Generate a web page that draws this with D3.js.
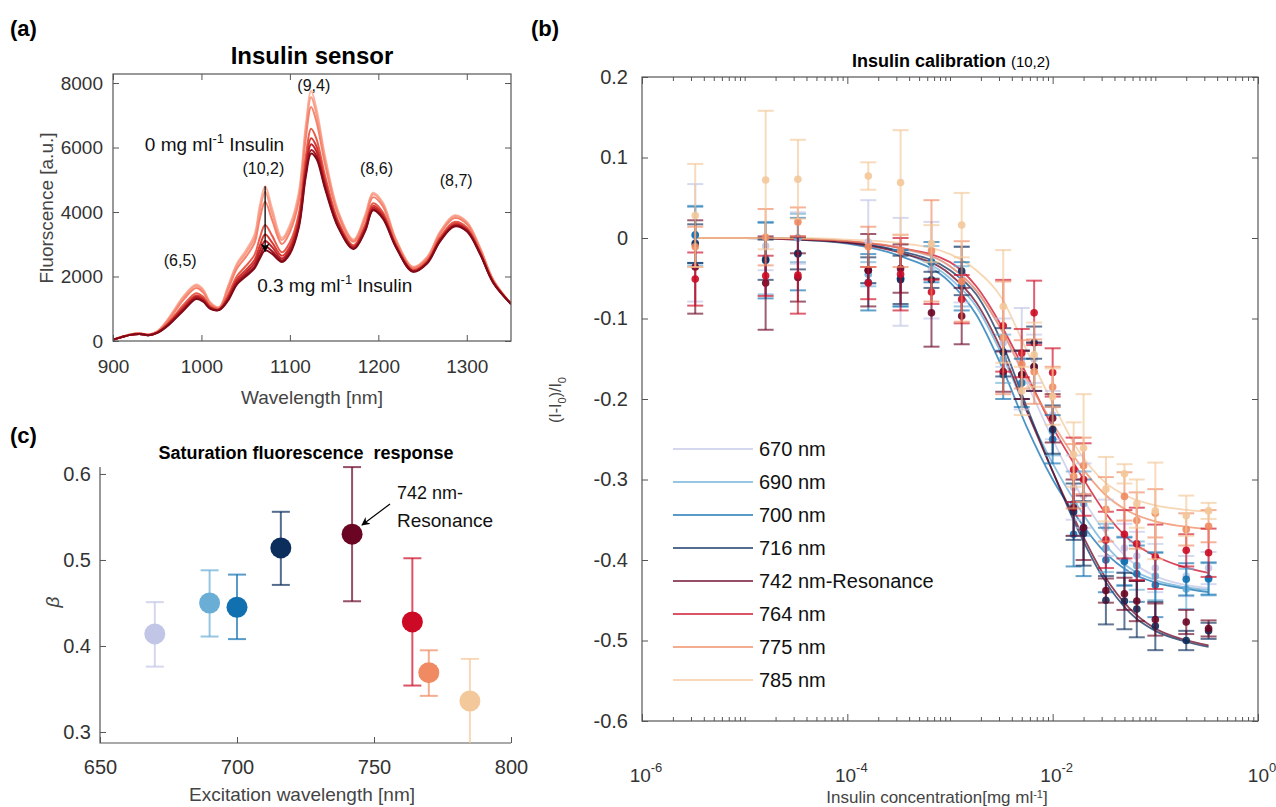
<!DOCTYPE html>
<html>
<head>
<meta charset="utf-8">
<style>
  body { margin: 0; background: #fff; }
  svg text { font-family: "Liberation Sans", Arial, sans-serif; white-space: pre; }
</style>
</head>
<body>
<div id="chart"></div>
<script src="https://d3js.org/d3.v7.min.js"></script>
<script>
// ---------- (a) emission spectra, 0 -> 0.3 mg/ml insulin ----------
var wavelengths = [900,910,920,930,940,950,960,970,980,994,1002,1010,1020,1030,1040,1050,1060,1066,1072,1080,1091,1100,1110,1118,1124,1130,1140,1155,1172,1185,1194,1205,1220,1239,1255,1270,1286,1300,1315,1330,1350];
var spec0 = [40,130,210,240,200,300,600,1000,1400,1750,1600,1200,1050,1700,2400,2800,3300,4200,4800,4100,3200,3600,4600,6700,7750,7200,5700,4000,3150,3900,4600,4300,3150,2300,2600,3400,3900,3700,2900,1900,1150];
var spec1 = [40,130,210,240,200,295,580,970,1360,1710,1560,1180,1040,1660,2340,2720,3200,4050,4620,3960,3130,3510,4490,6540,7560,7050,5600,3950,3120,3850,4550,4250,3130,2290,2580,3370,3870,3670,2880,1890,1150];
var spec2 = [40,130,200,230,200,290,560,920,1290,1640,1500,1150,1030,1590,2240,2600,3040,3800,4320,3750,3010,3380,4330,6300,7260,6810,5450,3880,3080,3780,4460,4180,3090,2260,2550,3330,3810,3630,2850,1880,1150];
var spec3 = [40,120,200,230,190,270,500,810,1130,1480,1370,1080,1000,1430,2010,2320,2670,3200,3600,3260,2750,3060,3940,5740,6580,6270,5100,3700,2970,3600,4270,4000,3000,2210,2480,3220,3690,3520,2780,1840,1150];
var spec4 = [40,120,190,220,180,260,470,760,1060,1410,1320,1050,980,1360,1910,2200,2510,2960,3300,3050,2640,2930,3780,5500,6290,6040,4950,3630,2930,3530,4190,3930,2960,2190,2450,3180,3640,3480,2750,1830,1150];
var spec5 = [40,120,190,220,180,260,460,730,1020,1370,1280,1030,970,1320,1850,2120,2410,2790,3100,2910,2560,2840,3670,5340,6100,5880,4850,3580,2900,3480,4130,3880,2940,2170,2430,3150,3600,3450,2730,1820,1150];
var spec6 = [40,120,190,220,180,250,440,700,980,1330,1240,1010,970,1280,1790,2050,2310,2650,2930,2780,2500,2750,3570,5200,5920,5740,4760,3530,2870,3430,4080,3830,2920,2160,2410,3120,3570,3420,2710,1810,1150];
var spec7 = [40,120,190,220,180,250,430,680,950,1300,1220,1000,960,1250,1750,2000,2250,2560,2810,2700,2450,2700,3500,5100,5810,5650,4700,3500,2850,3400,4050,3800,2900,2150,2400,3100,3550,3400,2700,1800,1150];
var specColors = ["#fbb3a0","#f89c86","#f4826c","#e75b4a","#d63a32","#bf2329","#a2131f","#800a18"];
var aXTicks = [900,1000,1100,1200,1300];
var aYTicks = [0,2000,4000,6000,8000];
var peakLabels = ["(6,5)","(10,2)","(9,4)","(8,6)","(8,7)"];
var peakWl = [976,1070,1127,1198,1288];
var peakVal = [2510,5360,7940,5360,4990];

// ---------- (b) calibration, (I-I0)/I0 vs concentration ----------
var conc = [3.3e-6,1.6e-5,3.3e-5,1.6e-4,3.3e-4,6.6e-4,1.3e-3,3.3e-3,5e-3,6.6e-3,1e-2,1.6e-2,2e-2,3.3e-2,5e-2,6.6e-2,0.1,0.2,0.33];
var mean670 = [-0.006,-0.010,0.000,-0.005,-0.042,-0.040,-0.045,-0.130,-0.150,-0.150,-0.220,-0.310,-0.320,-0.360,-0.385,-0.395,-0.410,-0.420,-0.410];
var err670  = [0.073,0.030,0.032,0.052,0.067,0.060,0.035,0.030,0.063,0.030,0.030,0.040,0.040,0.035,0.030,0.030,0.030,0.025,0.020];
var mean690 = [0.003,-0.025,0.000,-0.045,-0.050,-0.030,-0.060,-0.150,-0.170,-0.160,-0.240,-0.330,-0.330,-0.385,-0.401,-0.407,-0.420,-0.436,-0.424];
var err690  = [0.037,0.045,0.030,0.015,0.035,0.020,0.025,0.030,0.030,0.030,0.030,0.040,0.040,0.030,0.030,0.030,0.030,0.025,0.020];
var mean700 = [0.004,-0.028,-0.020,-0.055,-0.050,-0.030,-0.060,-0.170,-0.180,-0.160,-0.250,-0.368,-0.360,-0.400,-0.402,-0.417,-0.431,-0.424,-0.423];
var err700  = [0.035,0.047,0.045,0.035,0.035,0.025,0.030,0.030,0.030,0.030,0.030,0.040,0.060,0.040,0.030,0.035,0.040,0.020,0.020];
var mean716 = [-0.007,-0.027,-0.019,-0.040,-0.052,-0.052,-0.041,-0.142,-0.170,-0.130,-0.238,-0.340,-0.367,-0.450,-0.451,-0.461,-0.482,-0.500,-0.488];
var err716  = [0.024,0.025,0.020,0.016,0.030,0.010,0.030,0.030,0.030,0.020,0.030,0.035,0.040,0.030,0.035,0.035,0.030,0.012,0.010];
var mean742 = [-0.036,-0.056,-0.049,-0.040,-0.038,-0.093,-0.097,-0.166,-0.170,-0.160,-0.224,-0.335,-0.360,-0.438,-0.442,-0.451,-0.474,-0.477,-0.485];
var err742  = [0.058,0.058,0.030,0.045,0.030,0.042,0.035,0.025,0.030,0.030,0.030,0.035,0.040,0.015,0.020,0.025,0.020,0.015,0.010];
var mean764 = [-0.051,-0.047,-0.046,-0.056,-0.045,-0.067,-0.076,-0.109,-0.143,-0.093,-0.167,-0.288,-0.300,-0.375,-0.368,-0.380,-0.396,-0.388,-0.391];
var err764  = [0.033,0.025,0.048,0.020,0.045,0.015,0.030,0.057,0.030,0.040,0.030,0.040,0.045,0.035,0.030,0.045,0.040,0.020,0.030];
var mean775 = [-0.011,0.001,0.020,-0.011,-0.016,-0.016,-0.054,-0.124,-0.157,-0.166,-0.185,-0.296,-0.283,-0.337,-0.321,-0.351,-0.342,-0.362,-0.358];
var err775  = [0.025,0.035,0.018,0.025,0.020,0.063,0.050,0.070,0.030,0.040,0.025,0.040,0.035,0.040,0.030,0.035,0.030,0.020,0.020];
var mean785 = [0.028,0.072,0.073,0.077,0.069,-0.007,0.016,-0.085,-0.190,-0.145,-0.197,-0.269,-0.261,-0.312,-0.293,-0.330,-0.339,-0.345,-0.339];
var err785  = [0.064,0.086,0.049,0.017,0.065,0.023,0.040,0.070,0.030,0.040,0.035,0.040,0.067,0.040,0.012,0.030,0.060,0.025,0.010];
// fitted curves
var fitConc = [3.3e-6,1e-5,3.2e-5,1e-4,3.2e-4,1e-3,1.8e-3,3.2e-3,5.6e-3,1e-2,1.8e-2,3.2e-2,5.6e-2,0.1,0.18,0.33];
var fit670 = [0,0,-0.001,-0.004,-0.013,-0.035,-0.065,-0.115,-0.180,-0.250,-0.315,-0.365,-0.400,-0.420,-0.430,-0.435];
var fit690 = [0,0,-0.001,-0.005,-0.017,-0.050,-0.085,-0.145,-0.215,-0.280,-0.335,-0.380,-0.410,-0.425,-0.433,-0.437];
var fit700 = [0,0,-0.002,-0.007,-0.022,-0.055,-0.095,-0.160,-0.235,-0.300,-0.350,-0.390,-0.415,-0.428,-0.435,-0.440];
var fit716 = [0,0,-0.001,-0.005,-0.016,-0.040,-0.070,-0.130,-0.210,-0.290,-0.365,-0.425,-0.465,-0.488,-0.500,-0.508];
var fit742 = [0,0,-0.002,-0.006,-0.018,-0.045,-0.080,-0.140,-0.215,-0.290,-0.360,-0.420,-0.460,-0.485,-0.498,-0.506];
var fit764 = [0,0,-0.001,-0.004,-0.012,-0.030,-0.060,-0.110,-0.170,-0.235,-0.290,-0.340,-0.375,-0.395,-0.408,-0.416];
var fit775 = [0,0,-0.001,-0.004,-0.012,-0.035,-0.065,-0.115,-0.175,-0.230,-0.280,-0.318,-0.340,-0.352,-0.358,-0.362];
var fit785 = [0,0,0,-0.002,-0.006,-0.020,-0.040,-0.075,-0.140,-0.205,-0.265,-0.303,-0.322,-0.332,-0.337,-0.340];
var seriesNames = ["670 nm","690 nm","700 nm","716 nm","742 nm-Resonance","764 nm","775 nm","785 nm"];
var seriesColors = ["#c2c6e6","#6aaed6","#1170b0","#0c2e5c","#6a0623","#cc0a25","#ef8a62","#f3c89a"];
var bYTicks = [-0.6,-0.5,-0.4,-0.3,-0.2,-0.1,0,0.1,0.2];
var bXMajor = [1e-6,1e-4,1e-2,1];
var bXExp = ["-6","-4","-2","0"];

// ---------- (c) saturation response beta ----------
var betaWl   = [670,690,700,716,742,764,770,785];
var betaVal  = [0.414,0.450,0.445,0.514,0.530,0.428,0.369,0.336];
var betaLow  = [0.376,0.411,0.408,0.471,0.452,0.354,0.342,0.280];
var betaHigh = [0.451,0.488,0.483,0.556,0.608,0.502,0.395,0.385];
var cXTicks = [650,700,750,800];
var cYTicks = [0.3,0.4,0.5,0.6];

var svg = d3.select("#chart").append("svg")
    .attr("width", 1276)
    .attr("height", 807);

function styleAxis(g, size) {
  g.attr("font-size", size).attr("font-family", "Liberation Sans, Arial, sans-serif");
  g.select(".domain").remove();
  g.selectAll("line").attr("stroke", "#555");
  g.selectAll("text").attr("fill", "#333");
}

function panelLabel(txt, x, y) {
  svg.append("text").attr("x", x).attr("y", y)
      .attr("font-size", 22).attr("font-weight", "bold").text(txt);
}

// ================= panel (a) =================
var xa = d3.scaleLinear().domain([900, 1350]).range([113, 511]);
var ya = d3.scaleLinear().domain([0, 8280]).range([341, 74]);

panelLabel("(a)", 10, 36);
svg.append("text").attr("x", 312).attr("y", 64).attr("text-anchor", "middle")
    .attr("font-size", 24).attr("font-weight", "bold").text("Insulin sensor");

svg.append("clipPath").attr("id", "clipA").append("rect")
    .attr("x", 113).attr("y", 74).attr("width", 398).attr("height", 267);

var specLine = d3.line()
    .x(function(d) { return xa(d[0]); })
    .y(function(d) { return ya(d[1]); })
    .curve(d3.curveCatmullRom.alpha(0.5));

var spectra = [spec0, spec1, spec2, spec3, spec4, spec5, spec6, spec7];
svg.append("g").attr("clip-path", "url(#clipA)")
  .selectAll("path").data(spectra).enter().append("path")
    .attr("d", function(s) { return specLine(d3.zip(wavelengths, s)); })
    .attr("fill", "none")
    .attr("stroke", function(s, i) { return specColors[i]; })
    .attr("stroke-width", 2);

svg.append("rect").attr("x", 113).attr("y", 74).attr("width", 398).attr("height", 267)
    .attr("fill", "none").attr("stroke", "#555").attr("stroke-width", 1.2);

styleAxis(svg.append("g").attr("transform", "translate(0,341)")
    .call(d3.axisBottom(xa).tickValues(aXTicks).tickSize(-6).tickPadding(19).tickFormat(d3.format("d"))), 19);
styleAxis(svg.append("g").attr("transform", "translate(0,74)")
    .call(d3.axisTop(xa).tickValues(aXTicks).tickSize(-6).tickFormat("")), 19);
styleAxis(svg.append("g").attr("transform", "translate(113,0)")
    .call(d3.axisLeft(ya).tickValues(aYTicks).tickSize(-6).tickPadding(10).tickFormat(d3.format("d"))), 19);
styleAxis(svg.append("g").attr("transform", "translate(511,0)")
    .call(d3.axisRight(ya).tickValues(aYTicks).tickSize(-6).tickFormat("")), 19);

svg.append("text").attr("x", 312).attr("y", 404).attr("text-anchor", "middle")
    .attr("font-size", 19).attr("fill", "#444").text("Wavelength [nm]");
svg.append("text").attr("transform", "translate(46,208) rotate(-90)")
    .attr("text-anchor", "middle").attr("dy", "0.35em")
    .attr("font-size", 19).attr("fill", "#444").text("Fluorscence [a.u.]");

svg.selectAll(".peak").data(peakLabels).enter().append("text")
    .attr("x", function(d, i) { return xa(peakWl[i]); })
    .attr("y", function(d, i) { return ya(peakVal[i]); })
    .attr("dy", "0.35em").attr("text-anchor", "middle")
    .attr("font-size", 16).attr("fill", "#111").text(function(d) { return d; });

var t0 = svg.append("text").attr("x", xa(936)).attr("y", ya(5900)).attr("font-size", 19).attr("fill", "#111");
t0.append("tspan").text("0 mg ml");
t0.append("tspan").attr("dy", -8).attr("font-size", 13).text("-1");
t0.append("tspan").attr("dy", 8).text(" Insulin");
var t1 = svg.append("text").attr("x", xa(1063)).attr("y", ya(1520)).attr("font-size", 19).attr("fill", "#111");
t1.append("tspan").text("0.3 mg ml");
t1.append("tspan").attr("dy", -8).attr("font-size", 13).text("-1");
t1.append("tspan").attr("dy", 8).text(" Insulin");

svg.append("defs").append("marker").attr("id", "headA")
    .attr("viewBox", "0 0 10 10").attr("refX", 9).attr("refY", 5)
    .attr("markerWidth", 7).attr("markerHeight", 7).attr("orient", "auto")
  .append("path").attr("d", "M0,0 L10,5 L0,10 L3,5 z").attr("fill", "#000");
svg.append("line")
    .attr("x1", xa(1072)).attr("x2", xa(1072))
    .attr("y1", ya(4800)).attr("y2", ya(2780))
    .attr("stroke", "#000").attr("stroke-width", 1.3)
    .attr("marker-end", "url(#headA)");

// ================= panel (b) =================
var xb = d3.scaleLog().domain([1e-6, 1]).range([642, 1258]);
var yb = d3.scaleLinear().domain([-0.6, 0.2]).range([721, 77]);

panelLabel("(b)", 531, 36);
var tb = svg.append("text").attr("x", 951).attr("y", 67).attr("text-anchor", "middle")
    .attr("font-size", 18).attr("font-weight", "bold");
tb.append("tspan").text("Insulin calibration ");
tb.append("tspan").attr("font-size", 15).attr("font-weight", "normal").text("(10,2)");

var bMinor = xb.ticks().filter(function(t) { return bXMajor.indexOf(t) < 0; });
var yFmt = function(d) { return Math.abs(d) < 1e-9 ? "0" : d.toFixed(1); };

styleAxis(svg.append("g").attr("transform", "translate(0,721)")
    .call(d3.axisBottom(xb).tickValues(bXMajor).tickSize(-7).tickFormat("")), 18);
styleAxis(svg.append("g").attr("transform", "translate(0,721)")
    .call(d3.axisBottom(xb).tickValues(bMinor).tickSize(-4).tickFormat("")), 18);
styleAxis(svg.append("g").attr("transform", "translate(0,77)")
    .call(d3.axisTop(xb).tickValues(bXMajor).tickSize(-7).tickFormat("")), 18);
styleAxis(svg.append("g").attr("transform", "translate(0,77)")
    .call(d3.axisTop(xb).tickValues(bMinor).tickSize(-4).tickFormat("")), 18);
styleAxis(svg.append("g").attr("transform", "translate(642,0)")
    .call(d3.axisLeft(yb).tickValues(bYTicks).tickSize(-6).tickPadding(14).tickFormat(yFmt)), 20);
styleAxis(svg.append("g").attr("transform", "translate(1258,0)")
    .call(d3.axisRight(yb).tickValues(bYTicks).tickSize(-6).tickFormat("")), 18);
svg.append("rect").attr("x", 642).attr("y", 77).attr("width", 616).attr("height", 644)
    .attr("fill", "none").attr("stroke", "#555").attr("stroke-width", 1.2);

bXMajor.forEach(function(v, i) {
  var t = svg.append("text").attr("x", xb(v) + 4).attr("y", 782)
      .attr("text-anchor", "middle").attr("font-size", 19).attr("fill", "#333");
  t.append("tspan").text("10");
  t.append("tspan").attr("dy", -10).attr("font-size", 13).text(bXExp[i]);
});

var xlb = svg.append("text").attr("x", 937).attr("y", 803).attr("text-anchor", "middle")
    .attr("font-size", 17).attr("fill", "#444");
xlb.append("tspan").text("Insulin concentration[mg ml");
xlb.append("tspan").attr("dy", -5).attr("font-size", 11).text("-1");
xlb.append("tspan").attr("dy", 5).text("]");

var ylb = svg.append("text").attr("transform", "translate(556,400) rotate(-90)")
    .attr("text-anchor", "middle").attr("dy", "0.3em").attr("font-size", 16).attr("fill", "#444");
ylb.append("tspan").text("(I-I");
ylb.append("tspan").attr("dy", 5).attr("font-size", 11).text("0");
ylb.append("tspan").attr("dy", -5).text(")/I");
ylb.append("tspan").attr("dy", 5).attr("font-size", 11).text("0");

var means = [mean670, mean690, mean700, mean716, mean742, mean764, mean775, mean785];
var errs = [err670, err690, err700, err716, err742, err764, err775, err785];
var fits = [fit670, fit690, fit700, fit716, fit742, fit764, fit775, fit785];

svg.append("clipPath").attr("id", "clipB").append("rect")
    .attr("x", 642).attr("y", 77).attr("width", 616).attr("height", 644);
var plotB = svg.append("g").attr("clip-path", "url(#clipB)");

var fitLine = d3.line()
    .x(function(d) { return xb(d[0]); })
    .y(function(d) { return yb(d[1]); })
    .curve(d3.curveMonotoneX);

fits.forEach(function(f, i) {
  plotB.append("path").attr("d", fitLine(d3.zip(fitConc, f)))
      .attr("fill", "none").attr("stroke", seriesColors[i])
      .attr("stroke-opacity", 0.75).attr("stroke-width", 1.8);
});

means.forEach(function(m, i) {
  var g = plotB.append("g").attr("stroke", seriesColors[i]).attr("stroke-opacity", 0.65).attr("stroke-width", 2);
  conc.forEach(function(c, j) {
    var cx = xb(c), lo = yb(m[j] - errs[i][j]), hi = yb(m[j] + errs[i][j]);
    g.append("line").attr("x1", cx).attr("x2", cx).attr("y1", lo).attr("y2", hi);
    g.append("line").attr("x1", cx - 8).attr("x2", cx + 8).attr("y1", lo).attr("y2", lo);
    g.append("line").attr("x1", cx - 8).attr("x2", cx + 8).attr("y1", hi).attr("y2", hi);
  });
  plotB.append("g").selectAll("circle").data(m).enter().append("circle")
      .attr("cx", function(d, j) { return xb(conc[j]); })
      .attr("cy", function(d) { return yb(d); })
      .attr("r", 3.8).attr("fill", seriesColors[i]).attr("fill-opacity", 0.9);
});

var leg = svg.append("g");
seriesNames.forEach(function(name, i) {
  var ly = 449 + i * 33;
  leg.append("line").attr("x1", 673).attr("x2", 753).attr("y1", ly).attr("y2", ly)
      .attr("stroke", seriesColors[i]).attr("stroke-opacity", 0.7).attr("stroke-width", 2);
  leg.append("text").attr("x", 759).attr("y", ly).attr("dy", "0.36em")
      .attr("font-size", 20).attr("fill", "#111").text(name);
});

// ================= panel (c) =================
var xc = d3.scaleLinear().domain([650, 800]).range([100, 511]);
var yc = d3.scaleLinear().domain([0.2872, 0.6081]).range([743, 467]);

panelLabel("(c)", 10, 443);
svg.append("text").attr("x", 306).attr("y", 459).attr("text-anchor", "middle")
    .attr("font-size", 18).attr("font-weight", "bold").text("Saturation fluorescence  response");

styleAxis(svg.append("g").attr("transform", "translate(0,743)")
    .call(d3.axisBottom(xc).tickValues(cXTicks).tickSize(-6).tickPadding(17).tickFormat(d3.format("d"))), 20);
styleAxis(svg.append("g").attr("transform", "translate(100,0)")
    .call(d3.axisLeft(yc).tickValues(cYTicks).tickSize(-6).tickPadding(9).tickFormat(d3.format(".1f"))), 20);
svg.append("path").attr("d", "M100,467 V743 H511")
    .attr("fill", "none").attr("stroke", "#555").attr("stroke-width", 1.2);

svg.append("text").attr("x", 302).attr("y", 801).attr("text-anchor", "middle")
    .attr("font-size", 19).attr("fill", "#444").text("Excitation wavelength [nm]");
svg.append("text").attr("transform", "translate(52,602) rotate(-90)")
    .attr("text-anchor", "middle").attr("dy", "0.35em")
    .attr("font-size", 19).attr("font-style", "italic").attr("fill", "#444").text("β");

svg.append("clipPath").attr("id", "clipC").append("rect")
    .attr("x", 90).attr("y", 440).attr("width", 440).attr("height", 303);
var plotC = svg.append("g").attr("clip-path", "url(#clipC)");
betaWl.forEach(function(w, i) {
  var cx = xc(w), lo = yc(betaLow[i]), hi = yc(betaHigh[i]);
  var g = plotC.append("g").attr("stroke", seriesColors[i]).attr("stroke-opacity", 0.7).attr("stroke-width", 2);
  g.append("line").attr("x1", cx).attr("x2", cx).attr("y1", lo).attr("y2", hi);
  g.append("line").attr("x1", cx - 9).attr("x2", cx + 9).attr("y1", lo).attr("y2", lo);
  g.append("line").attr("x1", cx - 9).attr("x2", cx + 9).attr("y1", hi).attr("y2", hi);
});
plotC.selectAll("circle").data(betaVal).enter().append("circle")
    .attr("cx", function(d, i) { return xc(betaWl[i]); })
    .attr("cy", function(d) { return yc(d); })
    .attr("r", 10.5)
    .attr("fill", function(d, i) { return seriesColors[i]; });

svg.append("defs").append("marker").attr("id", "headC")
    .attr("viewBox", "0 0 10 10").attr("refX", 9).attr("refY", 5)
    .attr("markerWidth", 7).attr("markerHeight", 7).attr("orient", "auto")
  .append("path").attr("d", "M0,0 L10,5 L0,10 L3,5 z").attr("fill", "#000");
svg.append("line").attr("x1", 390).attr("y1", 504).attr("x2", 362).attr("y2", 525)
    .attr("stroke", "#000").attr("stroke-width", 1.2).attr("marker-end", "url(#headC)");
svg.append("text").attr("x", 397).attr("y", 499).attr("font-size", 18).attr("fill", "#111").text("742 nm-");
svg.append("text").attr("x", 397).attr("y", 527).attr("font-size", 19).attr("fill", "#111").text("Resonance");
</script>
</body>
</html>
